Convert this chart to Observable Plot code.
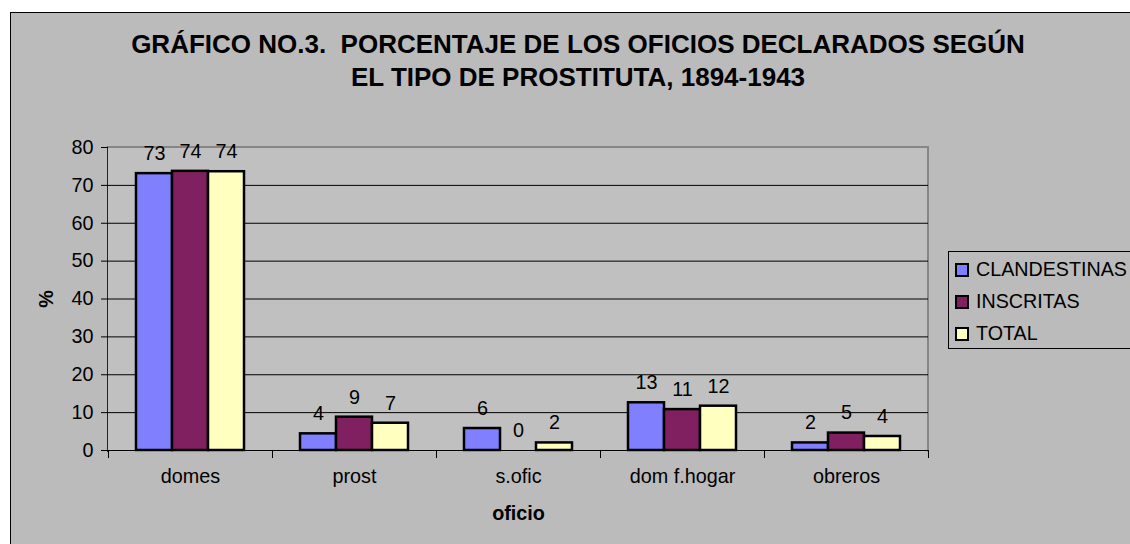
<!DOCTYPE html>
<html>
<head>
<meta charset="utf-8">
<script src="https://cdn.jsdelivr.net/npm/d3@7"></script>
<script src="https://cdn.jsdelivr.net/npm/@observablehq/plot@0.6"></script>
<style>
  html, body { margin: 0; padding: 0; background: #ffffff; }
  #wrap { position: relative; width: 1130px; height: 544px; overflow: hidden; font-family: "Liberation Sans", Arial, sans-serif; }
  #outer { position: absolute; left: 10px; top: 12px; width: 1200px; height: 600px; background: #bbbbbb; border: 1px solid #000; }
  #plotbg { position: absolute; left: 107px; top: 146px; width: 819px; height: 304px; background: #c0c0c0; border-top: 2px solid #868686; border-right: 2px solid #868686; border-left: 1px solid #222; }
  #title { position: absolute; left: 0; width: 1156px; top: 28px; text-align: center; font-weight: bold; font-size: 26px; line-height: 33px; white-space: pre; color: #000; }
  #chart { position: absolute; left: 0; top: 0; }
  #chart svg { background: transparent !important; color: #000; font-family: "Liberation Sans", Arial, sans-serif; overflow: visible; }
  #chart g[aria-label$="axis label"] text { font-weight: bold; }
  #legend { position: absolute; left: 948px; top: 251px; width: 200px; height: 96px; border: 1px solid #000; background: #bbbbbb; }
  .item { position: absolute; left: 6px; height: 22px; font-size: 19.7px; line-height: 22px; color: #000; }
  .sw { position: absolute; left: 0; top: 5px; width: 10px; height: 10px; border: 2px solid #000; }
  .lab { position: absolute; left: 21px; top: 0; white-space: nowrap; }
</style>
</head>
<body>
<div id="wrap">
  <div id="outer"></div>
  <div id="plotbg"></div>
  <div id="title"></div>
  <div id="chart"></div>
  <div id="legend"></div>
</div>
<script>
const titleLines = ["GRÁFICO NO.3.  PORCENTAJE DE LOS OFICIOS DECLARADOS SEGÚN", "EL TIPO DE PROSTITUTA, 1894-1943"];
const categories = ["domes", "prost", "s.ofic", "dom f.hogar", "obreros"];
const series = ["CLANDESTINAS", "INSCRITAS", "TOTAL"];
const clandestinas = [73.1, 4.4, 5.8, 12.6, 2.0];
const inscritas = [73.7, 8.8, 0, 10.8, 4.6];
const total = [73.6, 7.2, 2.0, 11.7, 3.7];
const colors = ["#8080ff", "#802060", "#ffffc0"];
const yTicks = [0, 10, 20, 30, 40, 50, 60, 70, 80];
const yLabel = "%";
const xLabel = "oficio";

const valuesBySeries = [clandestinas, inscritas, total];
const data = [];
categories.forEach((c, i) => {
  series.forEach((s, j) => {
    data.push({oficio: c, serie: s, value: valuesBySeries[j][i]});
  });
});

document.getElementById("title").textContent = titleLines.join("\n");

const FS = 19.8;
const chart = Plot.plot({
  width: 1130,
  height: 544,
  marginLeft: 108,
  marginRight: 202,
  marginTop: 147,
  marginBottom: 94,
  style: {background: "transparent", fontSize: FS + "px"},
  fx: {domain: categories, padding: 0},
  x: {domain: series, paddingInner: 0, paddingOuter: 0.76, axis: null},
  y: {domain: [0, 80]},
  color: {domain: series, range: colors},
  marks: [
    Plot.gridY(yTicks.slice(1, -1), {stroke: "#000", strokeOpacity: 1, strokeWidth: 1}),
    Plot.barY(data, {fx: "oficio", x: "serie", y: "value", fill: "serie", stroke: "#000", strokeWidth: 2.5, insetLeft: 0, insetRight: 0}),
    Plot.ruleY([0], {stroke: "#000", strokeWidth: 1.2}),
    Plot.frame({anchor: "left", stroke: "#000", strokeWidth: 1, insetTop: 303, insetBottom: -7}),
    Plot.frame({anchor: "right", stroke: "#000", strokeWidth: 1, insetTop: 303, insetBottom: -7}),
    Plot.text(data, {fx: "oficio", x: "serie", y: "value", text: d => d3.format(".0f")(d.value), dy: -20, fontSize: FS, fill: "#000"}),
    Plot.axisY(yTicks, {anchor: "left", tickSize: 7, tickPadding: 8, fontSize: FS, label: yLabel, labelAnchor: "center", labelArrow: "none", labelOffset: 70, stroke: "#000"}),
    Plot.axisFx({anchor: "bottom", tickSize: 0, tickPadding: 18, fontSize: FS, label: xLabel, labelAnchor: "center", labelArrow: "none", labelOffset: 69})
  ]
});
document.getElementById("chart").appendChild(chart);

const legend = document.getElementById("legend");
series.forEach((s, j) => {
  const item = document.createElement("div");
  item.className = "item";
  item.style.top = (6 + j * 32) + "px";
  const sw = document.createElement("div");
  sw.className = "sw";
  sw.style.background = colors[j];
  const lab = document.createElement("div");
  lab.className = "lab";
  lab.textContent = s;
  item.appendChild(sw);
  item.appendChild(lab);
  legend.appendChild(item);
});
</script>
</body>
</html>
